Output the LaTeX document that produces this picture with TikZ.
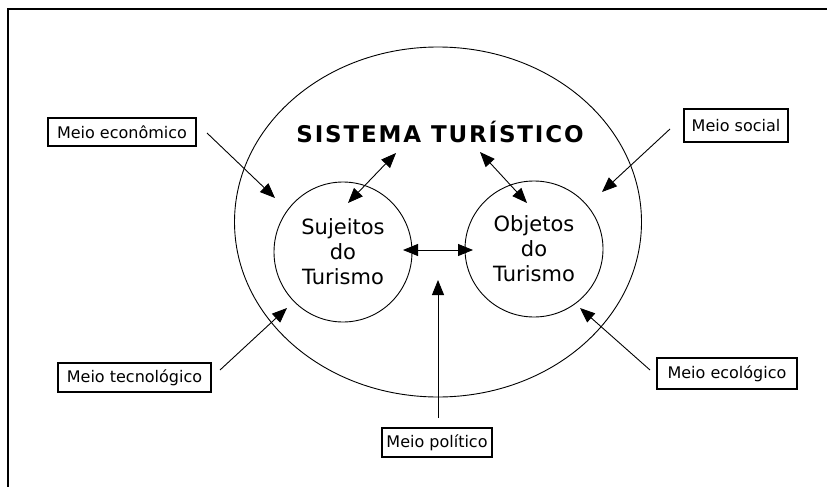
\documentclass[tikz,border=0pt]{standalone}
\usepackage{fontspec}
\setmainfont{DejaVu Sans}
\newfontfamily\titlefont[LetterSpace=8]{DejaVu Sans}
\usetikzlibrary{arrows.meta,shapes.geometric}
\tikzset{
  lab/.style={draw, line width=1.2pt, inner sep=0pt, font=\fontsize{16}{19}\selectfont},
  ring/.style={draw, ellipse, inner sep=0pt, line width=0.9pt, align=center, font=\fontsize{21}{25}\selectfont},
  tip/.tip={Triangle[length=15pt,width=12pt]},
  arr/.style={-tip, line width=0.9pt},
  darr/.style={tip-tip, line width=0.9pt}
}
\begin{document}
\begin{tikzpicture}[x=1pt,y=-1pt]
\useasboundingbox (0,0) rectangle (827,487);
\fill[white] (0,0) rectangle (827,487);
% frame
\draw[line width=1.5pt] (8,487) -- (8,9) -- (827,9);
% system ellipse
\node[ring, minimum width=407pt, minimum height=350pt] (sys) at (438,222) {};
\node[font=\titlefont\bfseries\fontsize{23}{26}\selectfont, anchor=base, inner sep=0pt] (title) at (440,142) {SISTEMA TURÍSTICO};
% inner circles
\node[ring, minimum width=138pt, minimum height=140pt] (suj) at (343,252) {Sujeitos\\do\\Turismo};
\node[ring, minimum width=138pt, minimum height=136pt] (obj) at (534,249) {Objetos\\do\\Turismo};
% label boxes
\node[lab, minimum width=148pt, minimum height=28pt] (econ) at (122,132) {Meio econômico};
\node[lab, minimum width=104pt, minimum height=33pt] (soc) at (736,125.5) {Meio social};
\node[lab, minimum width=153pt, minimum height=29pt] (tec) at (134.5,377.5) {Meio tecnológico};
\node[lab, minimum width=140pt, minimum height=31pt] (eco) at (727,373.5) {Meio ecológico};
\node[lab, minimum width=110pt, minimum height=29pt] (pol) at (437,442.5) {Meio político};
% connector ends
\coordinate (econS) at (207,133); \coordinate (econT) at (275,198);
\coordinate (socS) at (670,129);  \coordinate (socT) at (602,192);
\coordinate (tecS) at (220,370);  \coordinate (tecT) at (287,308);
\coordinate (ecoS) at (650,370);  \coordinate (ecoT) at (580,308);
\coordinate (polS) at (438,418);  \coordinate (polT) at (438,280);
\coordinate (mL) at (403,250);    \coordinate (mR) at (473,250);
\coordinate (sL) at (348,203);    \coordinate (tL) at (396,153);
\coordinate (oR) at (527,203);    \coordinate (tR) at (480,152);
% connectors
\draw[arr] (econS) -- (econT);
\draw[arr] (socS) -- (socT);
\draw[arr] (tecS) -- (tecT);
\draw[arr] (ecoS) -- (ecoT);
\draw[arr] (polS) -- (polT);
\draw[darr] (mL) -- (mR);
\draw[darr] (sL) -- (tL);
\draw[darr] (oR) -- (tR);
\end{tikzpicture}
\end{document}
